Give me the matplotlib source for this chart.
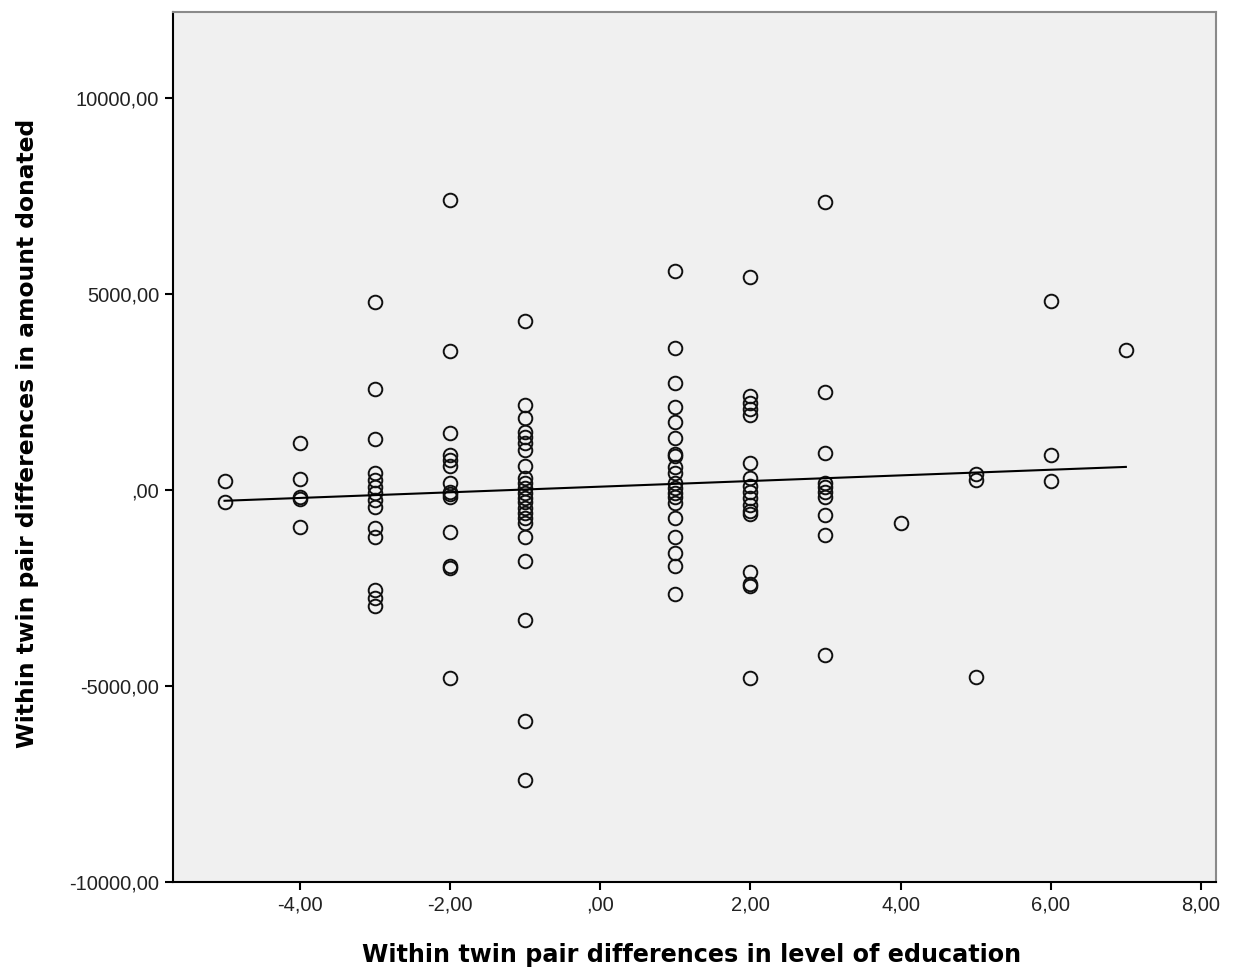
import numpy as np
import matplotlib
matplotlib.use("Agg")
import matplotlib.pyplot as plt
from matplotlib.ticker import FuncFormatter

# Data (x: education difference, y: donation difference)
y_m5 = [230, -306]
y_m4 = [1200, 280, -180, -230, -944]
y_m3 = [4800, 2577, 1300, 434, 255, 77, -77, -255, -430, -970, -1200, -2550, -2750, -2960]
y_m2 = [7400, 3546, 1454, 893, 765, 612, 178, -51, -102, -178, -1060, -1940, -1990, -4796]
y_m1 = [4311, 2160, 1830, 1480, 1352, 1200, 1010, 600, 306, 178, 51, -77, -204, -306,
        -459, -587, -714, -842, -1199, -1820, -3316, -5893, -7398]
y_p1 = [5587, 3610, 2717, 2105, 1735, 1320, 930, 867, 587, 434, 178, 51, -77, -178,
        -332, -714, -1199, -1607, -1926, -2665]
y_p2 = [5434, 2410, 2219, 2066, 1926, 700, 306, 102, -51, -204, -383, -536, -612,
        -2100, -2400, -2460, -4796]
y_p3 = [7347, 2512, 956, 178, 77, -51, -178, -650, -1148, -4209]
y_p4 = [-842]
y_p5 = [400, 250, -4770]
y_p6 = [4821, 893, 230]
y_p7 = [3571]

x_levels = [-5, -4, -3, -2, -1, 1, 2, 3, 4, 5, 6, 7]
y_groups = [y_m5, y_m4, y_m3, y_m2, y_m1, y_p1, y_p2, y_p3, y_p4, y_p5, y_p6, y_p7]

fit_intercept = 85.0
fit_slope = 72.0
fit_x_range = [-5, 7]

x_ticks = [-4, -2, 0, 2, 4, 6, 8]
y_ticks = [-10000, -5000, 0, 5000, 10000]

xs = np.concatenate([[x] * len(g) for x, g in zip(x_levels, y_groups)])
ys = np.concatenate([np.array(g, dtype=float) for g in y_groups])

fig = plt.figure(figsize=(12.33, 9.73), dpi=100)
ax = fig.add_axes([173 / 1233, 91 / 973, (1216 - 173) / 1233, (882 - 12) / 973])
ax.set_facecolor("#f0f0f0")

ax.plot(xs, ys, linestyle="none", marker="o", markersize=9.8,
        markerfacecolor="none", markeredgecolor="#111111", markeredgewidth=1.4, zorder=3)

fx = np.array(fit_x_range, dtype=float)
ax.plot(fx, fit_intercept + fit_slope * fx, color="black", linewidth=1.5, zorder=4)

ax.set_xlim(-5.686, 8.2)
ax.set_ylim(-10000, 12194)
ax.set_xticks(x_ticks)
ax.set_yticks(y_ticks)


def comma_fmt(v, pos):
    s = f"{v:.2f}".replace(".", ",")
    if s.startswith("0,"):
        s = s[1:]
    elif s.startswith("-0,"):
        s = s[2:]
    return s


ax.xaxis.set_major_formatter(FuncFormatter(comma_fmt))
ax.yaxis.set_major_formatter(FuncFormatter(comma_fmt))

for lab in ax.get_xticklabels() + ax.get_yticklabels():
    lab.set_family("Liberation Sans")
    lab.set_fontsize(14.5)
    lab.set_color("#222222")

ax.tick_params(axis="both", direction="out", length=6, width=1.5, color="black", pad=4)

for side in ["left", "bottom"]:
    ax.spines[side].set_color("black")
    ax.spines[side].set_linewidth(1.5)
for side in ["top", "right"]:
    ax.spines[side].set_color("#8a8a8a")
    ax.spines[side].set_linewidth(1.5)

fig.text(692 / 1233, 1 - 955 / 973, "Within twin pair differences in level of education",
         ha="center", va="center", fontsize=17.2, fontweight="bold", family="DejaVu Sans")
fig.text(28 / 1233, 1 - 433 / 973, "Within twin pair differences in amount donated",
         ha="center", va="center", rotation=90, fontsize=16.8, fontweight="bold", family="DejaVu Sans")

fig.savefig("out.png", dpi=100, facecolor="white")
